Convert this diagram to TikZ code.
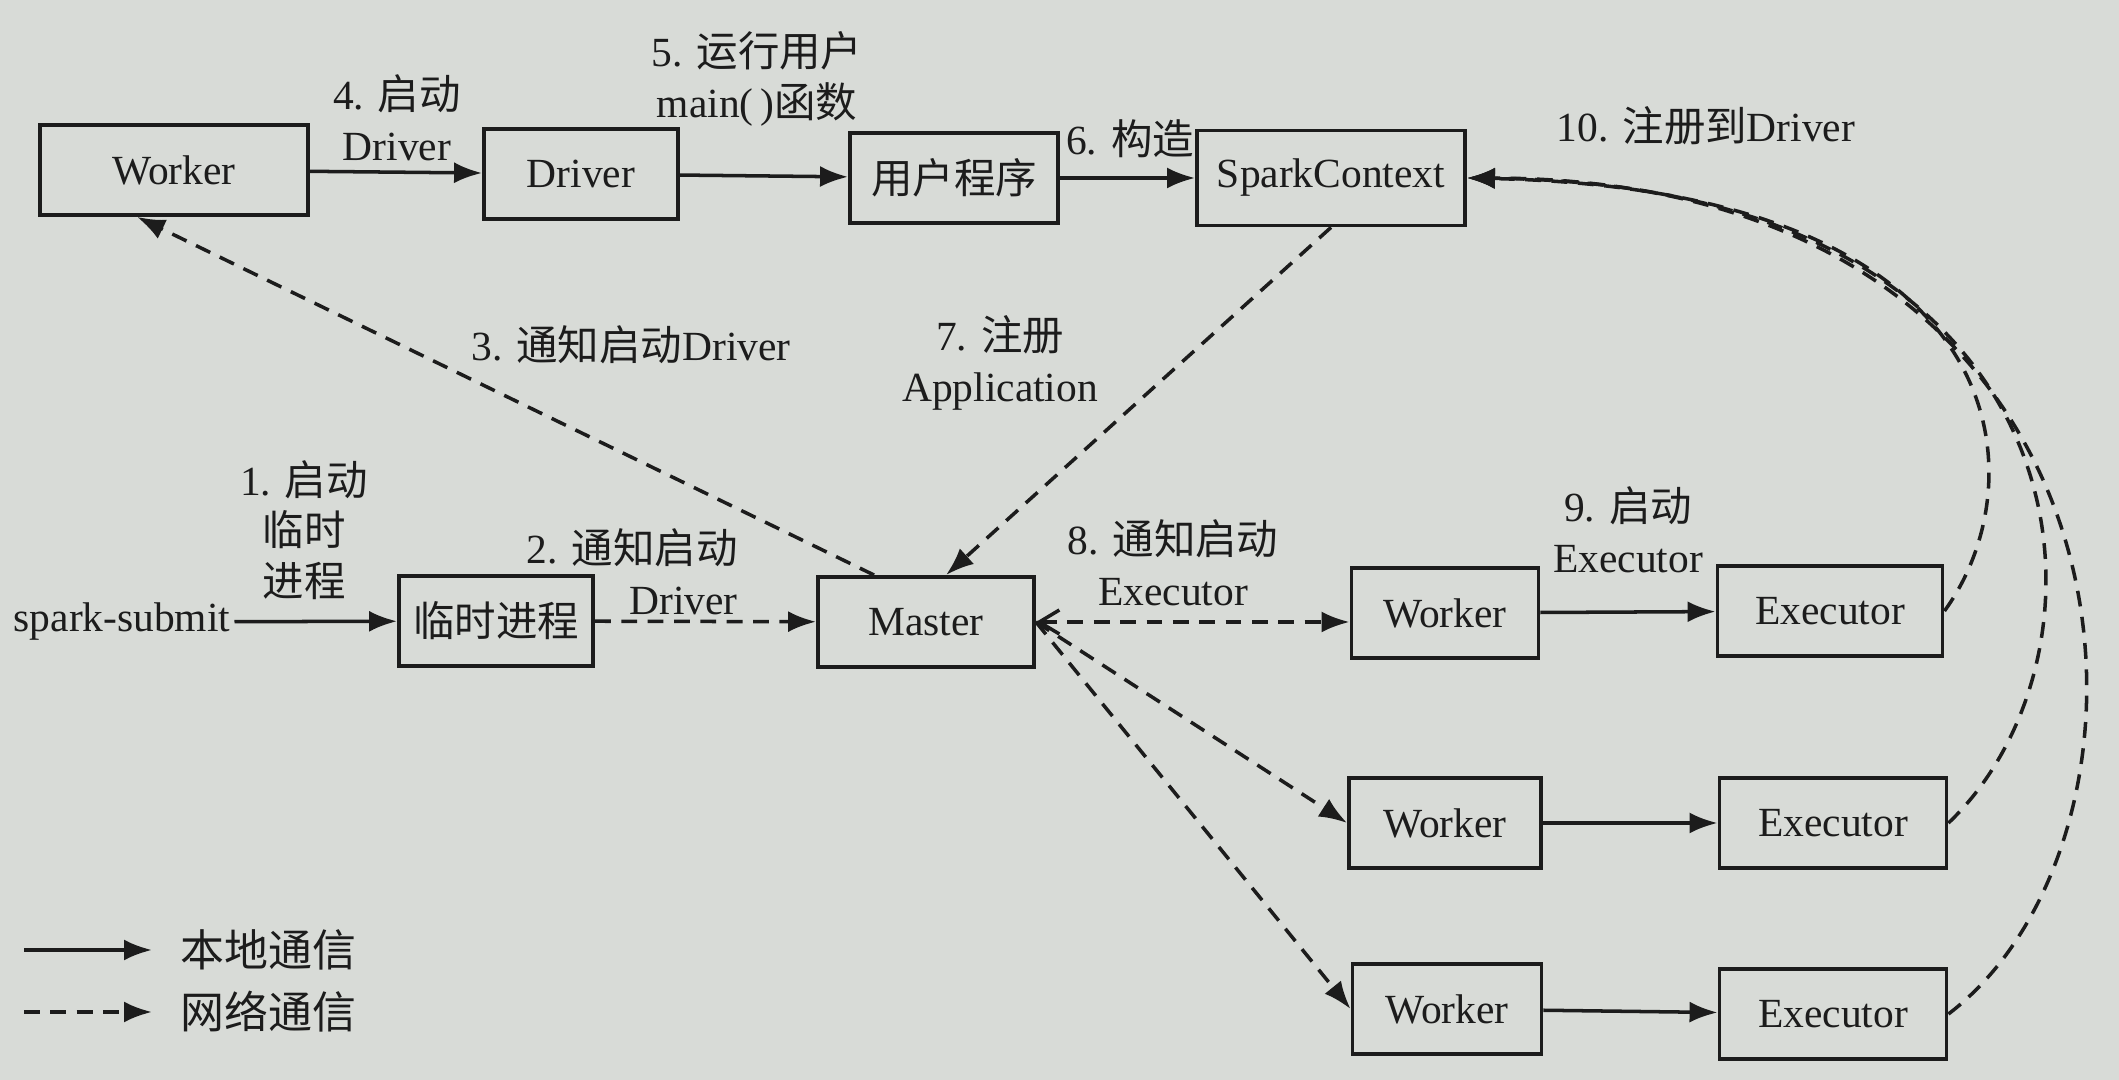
\documentclass[tikz,border=0pt]{standalone}
\usepackage{fontspec}
\setmainfont{Liberation Serif}
\newfontfamily\cjk{Noto Sans CJK SC}
\usetikzlibrary{arrows.meta}
\definecolor{paper}{RGB}{216,219,215}
\definecolor{ink}{RGB}{28,28,28}
\newcommand{\zh}[1]{{\cjk #1}}

\begin{document}
\begin{tikzpicture}[
    font=\fontsize{11.8}{14.4}\selectfont,
    every node/.style={text=ink},
    box/.style={draw=ink, line width=1.1pt, minimum height=0.9cm,
                align=center, inner sep=0pt},
    lbl/.style={align=center, inner sep=1pt},
    arr/.style={-{Latex[length=2.8mm,width=2.1mm]}, line width=1pt, draw=ink},
    darr/.style={arr, dash pattern=on 4.5pt off 3pt}
]
\fill[paper] (0,0) rectangle (21.19,10.80);
\useasboundingbox (0,0) rectangle (21.19,10.80);
% top row
\node[box, minimum width=2.68cm] (wtop) at (1.74,9.10) {Worker};
\node[box, minimum width=1.94cm] (drv) at (5.81,9.06) {Driver};
\node[box, minimum width=2.08cm] (prog) at (9.54,9.02) {\zh{用户程序}};
\node[box, minimum width=2.68cm, minimum height=0.95cm] (sc) at (13.31,9.02) {SparkContext};
% middle row
\node[lbl] (submit) at (1.22,4.58) {spark-submit};
\node[box, minimum width=1.94cm] (tmp) at (4.96,4.59) {\zh{临时进程}};
\node[box, minimum width=2.16cm] (master) at (9.26,4.58) {Master};
\node[box, minimum width=1.87cm] (wa) at (14.45,4.67) {Worker};
\node[box, minimum width=2.25cm] (ea) at (18.30,4.69) {Executor};
\node[box, minimum width=1.92cm] (wb) at (14.45,2.57) {Worker};
\node[box, minimum width=2.27cm] (eb) at (18.33,2.57) {Executor};
\node[box, minimum width=1.89cm] (wc) at (14.47,0.71) {Worker};
\node[box, minimum width=2.27cm] (ec) at (18.33,0.66) {Executor};
% step labels
\node[lbl] (l1) at (3.04,5.50) {1. \zh{启动}\\\zh{临时}\\\zh{进程}};
\node[lbl, align=right, anchor=east] (l2) at (7.42,5.08) {2. \zh{通知启动}\\Driver};
\node[lbl] (l3) at (6.31,7.35) {3. \zh{通知启动}Driver};
\node[lbl] (l4) at (3.97,9.62) {4. \zh{启动}\\Driver};
\node[lbl] (l5) at (7.57,10.01) {5. \zh{运行用户}\\main(\,)\zh{函数}};
\node[lbl] (l6) at (11.30,9.41) {6. \zh{构造}};
\node[lbl] (l7) at (10.00,7.17) {7. \zh{注册}\\Application};
\node[lbl] (l8) at (11.73,5.17) {8. \zh{通知启动}\\Executor};
\node[lbl] (l9) at (16.28,5.50) {9. \zh{启动}\\Executor};
\node[lbl] (l10) at (17.06,9.54) {10. \zh{注册到}Driver};
% legend
\coordinate (la) at (0.24,1.30);
\coordinate (lb) at (0.24,0.68);
\node[lbl, anchor=west, font=\fontsize{12.5}{15}\selectfont] (loc) at (1.76,1.30) {\zh{本地通信}};
\node[lbl, anchor=west, font=\fontsize{12.5}{15}\selectfont] (net) at (1.76,0.68) {\zh{网络通信}};
\draw[arr] (la) -- ([xshift=-0.24cm]loc.west);
\draw[darr] (lb) -- ([xshift=-0.24cm]net.west);
% local calls
\draw[arr] (wtop) -- (drv);
\draw[arr] (drv) -- (prog);
\draw[arr] (prog) -- (sc);
\draw[arr] (submit) -- (tmp);
\draw[arr] (wa) -- (ea);
\draw[arr] (wb) -- (eb);
\draw[arr] (wc) -- (ec);
% network calls
\draw[darr] (tmp) -- (master);
\draw[darr] ([xshift=0.58cm]master.north west) -- ([xshift=0.99cm]wtop.south west);
\draw[darr] (sc.south) -- ([xshift=0.2cm]master.north);
\draw[darr, {Straight Barb[length=2mm,width=2.4mm]}-{Latex[length=2.8mm,width=2.1mm]}]
    (master.east) -- (master.east -| wa.west);
\draw[darr] (master.east) -- (wb.west);
\draw[darr] (master.east) -- (wc.west);
\draw[darr] (ea.east) .. controls (20.4,6.0) and (20.2,8.9) .. (sc.east);
\draw[darr] (eb.east) .. controls (21.3,4.3) and (21.0,8.95) .. (sc.east);
\draw[darr] (ec.east) .. controls (21.9,2.5) and (21.6,9.0) .. (sc.east);
\end{tikzpicture}
\end{document}
